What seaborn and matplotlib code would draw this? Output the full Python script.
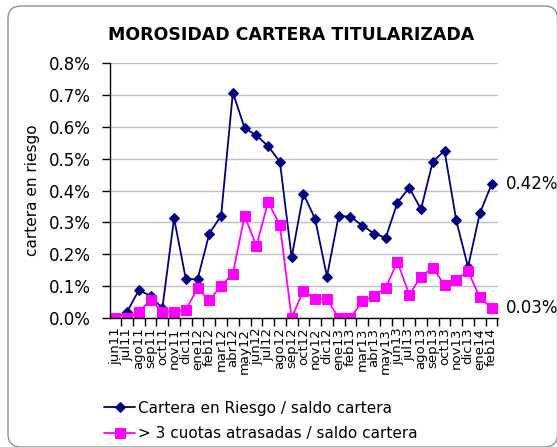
import numpy as np
import pandas as pd
import matplotlib
matplotlib.use("Agg")
import matplotlib.pyplot as plt
from matplotlib.patches import FancyBboxPatch
from matplotlib.transforms import IdentityTransform
import seaborn as sns

# Data, values in %
meses = ["jun11", "jul11", "ago11", "sep11", "oct11", "nov11", "dic11",
         "ene12", "feb12", "mar12", "abr12", "may12", "jun12", "jul12",
         "ago12", "sep12", "oct12", "nov12", "dic12", "ene13", "feb13",
         "mar13", "abr13", "may13", "jun13", "jul13", "ago13", "sep13",
         "oct13", "nov13", "dic13", "ene14", "feb14"]
cartera_riesgo = [0.000, 0.019, 0.087, 0.070, 0.030, 0.313, 0.122, 0.122,
                  0.265, 0.321, 0.707, 0.596, 0.573, 0.539, 0.490, 0.190,
                  0.390, 0.310, 0.130, 0.320, 0.318, 0.290, 0.265, 0.252,
                  0.362, 0.409, 0.341, 0.490, 0.525, 0.306, 0.160, 0.328,
                  0.419]
cuotas_atrasadas = [0.000, 0.000, 0.019, 0.057, 0.019, 0.019, 0.026, 0.093,
                    0.055, 0.101, 0.139, 0.321, 0.226, 0.364, 0.291, 0.000,
                    0.086, 0.060, 0.060, 0.000, 0.000, 0.052, 0.069, 0.095,
                    0.176, 0.073, 0.130, 0.158, 0.104, 0.120, 0.147, 0.065,
                    0.031]
serie1 = "Cartera en Riesgo / saldo cartera"
serie2 = "> 3 cuotas atrasadas / saldo cartera"

df = pd.DataFrame({"mes": meses, serie1: cartera_riesgo, serie2: cuotas_atrasadas})
df["x"] = np.arange(len(meses))

sns.set_style("white")
plt.rcParams["font.family"] = ["DejaVu Sans"]
plt.rcParams.update({"text.color": "black", "axes.labelcolor": "black",
                     "xtick.color": "black", "ytick.color": "black"})

fig = plt.figure(figsize=(5.57, 4.47), dpi=100)
# rounded chart border (pixel coords from bottom-left)
fig.patches.append(FancyBboxPatch((8, 0), 549.5, 441,
                                  boxstyle="round,pad=0,rounding_size=13",
                                  transform=IdentityTransform(), fill=False,
                                  edgecolor="#909090", linewidth=1))
ax = fig.add_axes([110 / 557, 1 - 318 / 447, 388 / 557, 255 / 447])

sns.lineplot(data=df, x="x", y=serie1, ax=ax, color="#000080", marker="D",
             markersize=5.5, linewidth=1.3, markeredgecolor="#000080", label=serie1)
sns.lineplot(data=df, x="x", y=serie2, ax=ax, color="#FF00FF", marker="s",
             markersize=6.5, linewidth=1.3, markeredgecolor="#FF00FF", label=serie2)

ax.set_xlim(-0.45, len(meses) - 0.45)
ax.set_ylim(0, 0.8)
ax.set_yticks(np.arange(0, 0.81, 0.1))
ax.set_yticklabels([f"{v:.1f}%" for v in np.arange(0, 0.81, 0.1)], fontsize=12)
ax.yaxis.grid(True, color="#c0c0c0", linewidth=1)
ax.set_axisbelow(True)

ax.set_xticks(df["x"])
ax.set_xticklabels(meses, rotation=90, fontsize=9.5)
ax.set_xticks(np.arange(len(meses)) + 0.5, minor=True)
ax.tick_params(axis="x", which="major", length=0, pad=7)
ax.tick_params(axis="x", which="minor", length=6, width=1, color="black", direction="out")
ax.tick_params(axis="y", length=6, width=1, color="black", direction="out", pad=8)
ax.xaxis.set_tick_params(which="minor", bottom=True)
ax.yaxis.set_tick_params(left=True)

for s in ["top", "right"]:
    ax.spines[s].set_visible(False)
for s in ["left", "bottom"]:
    ax.spines[s].set_color("black")
    ax.spines[s].set_linewidth(1)

ax.set_xlabel("")
ax.set_ylabel("cartera en riesgo", fontsize=11, labelpad=6)
fig.text(291 / 557, 1 - 35 / 447, "MOROSIDAD CARTERA TITULARIZADA", fontsize=12.5,
         fontweight="bold", ha="center", va="center")

ax.annotate(f"{cartera_riesgo[-1]:.2f}%", (df["x"].iloc[-1], cartera_riesgo[-1]),
            xytext=(10, 0), textcoords="offset points", va="center", fontsize=12,
            annotation_clip=False)
ax.annotate(f"{cuotas_atrasadas[-1]:.2f}%", (df["x"].iloc[-1], cuotas_atrasadas[-1]),
            xytext=(10, 0), textcoords="offset points", va="center", fontsize=12,
            annotation_clip=False)

ax.legend(loc="upper left", bbox_to_anchor=(-0.03, -0.30), frameon=False,
          fontsize=11, handlelength=2.0, handletextpad=0.2, labelspacing=0.7,
          borderaxespad=0)

fig.savefig("out.png", dpi=100)
